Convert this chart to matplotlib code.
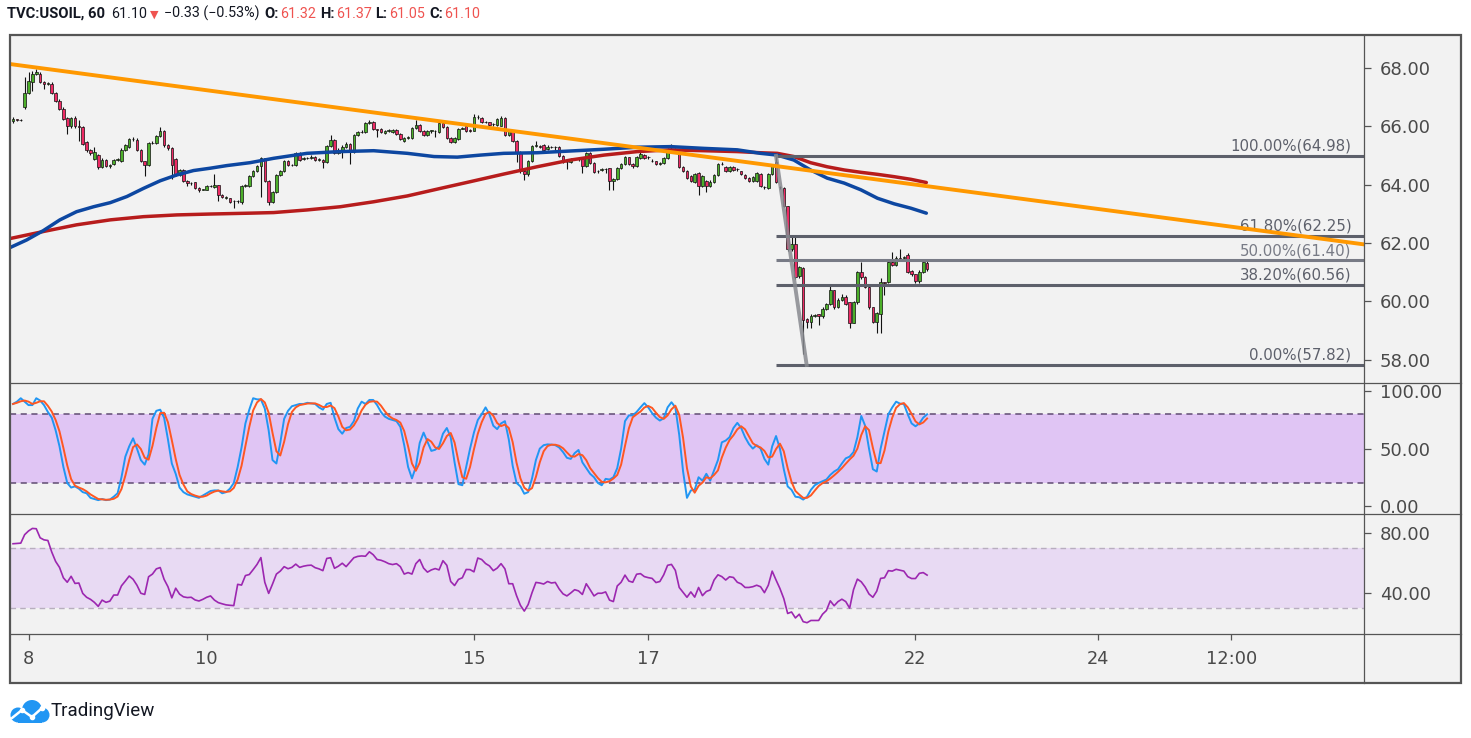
import numpy as np
import pandas as pd
import matplotlib
matplotlib.use("Agg")
import matplotlib.pyplot as plt
from matplotlib.patches import Rectangle, Circle
from matplotlib.lines import Line2D
from matplotlib.ticker import FormatStrFormatter

# ---------------- data (hourly bars, index 0 = first bar) ----------------
opens = [66.18, 66.24, 66.22, 66.66, 67.14, 67.52, 67.80, 67.80, 67.52, 67.46,
         67.46, 67.14, 66.87, 66.60, 66.28, 66.00, 66.28, 66.00, 65.97, 65.46,
         65.18, 64.87, 65.00, 64.60, 64.85, 64.65, 64.70, 64.85, 64.80, 65.18,
         65.29, 65.55, 65.53, 65.20, 64.80, 64.67, 65.42, 65.42, 65.66, 65.84,
         65.35, 65.25, 64.87, 64.32, 64.50, 64.12, 64.05, 64.08, 63.88, 63.82,
         63.82, 63.95, 63.90, 63.98, 63.64, 63.55, 63.53, 63.42, 63.42, 63.40,
         63.95, 63.95, 64.29, 64.46, 64.63, 64.90, 64.12, 63.40, 63.74, 64.32,
         64.46, 64.80, 64.67, 64.67, 65.08, 64.88, 64.90, 64.92, 64.95, 64.85,
         64.85, 64.77, 65.32, 65.53, 65.08, 65.15, 65.30, 65.40, 65.11, 65.70,
         65.80, 65.80, 66.12, 66.14, 65.90, 65.90, 65.75, 65.85, 65.80, 65.88,
         65.73, 65.50, 65.60, 65.60, 65.94, 66.05, 65.84, 65.70, 65.84, 65.82,
         65.80, 66.10, 65.97, 65.60, 65.46, 65.56, 65.92, 66.00, 65.86, 65.84,
         66.30, 66.28, 66.14, 66.14, 66.06, 66.04, 66.02, 66.28, 65.70, 65.85,
         65.50, 65.11, 64.46, 64.36, 64.80, 65.32, 65.32, 65.35, 65.22, 65.30,
         65.28, 65.29, 64.97, 64.77, 64.77, 64.87, 64.88, 64.87, 64.63, 65.08,
         64.74, 64.45, 64.50, 64.53, 64.56, 64.12, 64.18, 64.56, 64.70, 64.94,
         64.70, 64.63, 64.90, 65.00, 64.94, 64.82, 64.80, 64.72, 64.74, 64.90,
         65.22, 65.22, 65.11, 64.60, 64.46, 64.30, 64.08, 64.39, 63.95, 64.12,
         63.95, 64.10, 64.32, 64.70, 64.60, 64.46, 64.60, 64.53, 64.45, 64.32,
         64.22, 64.12, 64.12, 64.36, 63.92, 63.88, 64.36, 64.77, 63.92, 63.88,
         63.26, 61.78, 61.95, 60.85, 61.13, 59.40, 59.30, 59.50, 59.55, 59.48,
         59.75, 59.89, 60.37, 59.79, 60.06, 60.16, 59.96, 59.27, 59.96, 60.99,
         60.82, 60.50, 59.79, 59.30, 59.55, 60.65, 60.65, 61.33, 61.26, 61.50,
         61.50, 61.60, 61.05, 60.92, 60.68, 61.02, 61.32]
highs = [66.32, 66.26, 66.24, 67.70, 67.86, 67.88, 67.97, 67.85, 67.55, 67.52,
         67.50, 67.18, 66.92, 66.65, 66.32, 66.32, 66.34, 66.20, 66.00, 65.50,
         65.22, 65.30, 65.05, 64.90, 64.88, 64.70, 64.88, 64.92, 65.25, 65.40,
         65.60, 65.62, 65.58, 65.22, 64.82, 65.45, 65.48, 65.70, 65.97, 65.86,
         65.38, 65.28, 64.90, 64.55, 64.55, 64.15, 64.10, 64.10, 63.92, 63.84,
         63.98, 64.00, 64.36, 64.00, 63.66, 63.60, 63.55, 63.46, 63.46, 63.98,
         64.02, 64.33, 64.50, 64.66, 64.95, 64.92, 64.15, 63.78, 64.36, 64.50,
         64.84, 64.84, 64.72, 65.12, 65.12, 64.95, 64.96, 65.00, 64.98, 64.90,
         64.88, 65.36, 65.70, 65.56, 65.24, 65.34, 65.45, 65.44, 65.74, 65.84,
         65.86, 66.14, 66.20, 66.18, 65.92, 65.93, 65.88, 65.90, 65.92, 65.90,
         65.76, 65.64, 65.66, 65.98, 66.20, 66.08, 65.86, 65.88, 65.88, 65.88,
         66.14, 66.14, 66.00, 65.62, 65.64, 65.94, 65.98, 66.04, 65.90, 66.42,
         66.40, 66.30, 66.18, 66.16, 66.10, 66.28, 66.35, 66.30, 65.88, 65.88,
         65.52, 65.14, 64.50, 64.84, 65.36, 65.50, 65.36, 65.38, 65.34, 65.33,
         65.32, 65.32, 65.00, 64.82, 64.90, 64.92, 64.92, 64.90, 65.12, 65.10,
         64.77, 64.50, 64.57, 64.56, 64.58, 64.22, 64.60, 64.74, 64.98, 64.96,
         64.74, 64.98, 65.10, 65.04, 64.98, 64.86, 64.82, 64.76, 64.94, 65.26,
         65.39, 65.26, 65.14, 64.64, 64.50, 64.34, 64.40, 64.42, 64.34, 64.16,
         64.14, 64.36, 64.74, 64.76, 64.64, 64.64, 64.64, 64.58, 64.48, 64.35,
         64.25, 64.28, 64.42, 64.40, 63.95, 64.40, 64.67, 64.98, 63.95, 63.90,
         63.28, 62.19, 62.19, 61.20, 61.16, 59.44, 59.56, 59.55, 59.58, 59.80,
         59.94, 60.52, 60.40, 60.10, 60.25, 60.20, 59.98, 60.00, 61.03, 61.33,
         60.86, 60.54, 59.82, 59.64, 60.80, 60.66, 61.37, 61.68, 61.54, 61.78,
         61.55, 61.64, 61.08, 60.95, 61.06, 61.36, 61.37]
lows = [66.10, 66.18, 66.18, 66.60, 67.10, 67.20, 67.75, 67.48, 67.28, 67.40,
        67.10, 66.82, 66.55, 66.20, 65.73, 65.95, 65.95, 65.50, 65.35, 65.12,
        65.02, 64.85, 64.55, 64.58, 64.60, 64.58, 64.66, 64.82, 64.78, 65.15,
        65.26, 65.50, 65.15, 64.78, 64.30, 64.65, 65.38, 65.40, 65.62, 65.30,
        65.20, 64.18, 64.28, 64.28, 64.08, 63.95, 64.00, 63.85, 63.75, 63.80,
        63.80, 63.92, 63.88, 63.45, 63.55, 63.50, 63.36, 63.20, 63.38, 63.35,
        63.90, 63.92, 64.25, 64.43, 63.57, 64.10, 63.30, 63.36, 63.70, 64.28,
        64.42, 64.62, 64.62, 64.64, 64.80, 64.84, 64.86, 64.88, 64.82, 64.80,
        64.56, 64.75, 65.30, 65.04, 65.04, 64.90, 65.26, 64.70, 65.08, 65.66,
        65.76, 65.78, 66.08, 65.86, 65.63, 65.76, 65.72, 65.80, 65.76, 65.70,
        65.52, 65.45, 65.56, 65.56, 65.90, 65.80, 65.66, 65.66, 65.75, 65.62,
        65.76, 65.94, 65.56, 65.42, 65.43, 65.54, 65.90, 65.80, 65.80, 65.82,
        66.26, 66.10, 66.10, 66.00, 66.02, 66.00, 66.00, 65.66, 65.66, 65.46,
        64.77, 64.40, 64.15, 64.30, 64.76, 65.28, 65.24, 65.16, 65.18, 65.24,
        65.20, 64.94, 64.74, 64.53, 64.74, 64.84, 64.82, 64.40, 64.60, 64.70,
        64.40, 64.40, 64.46, 64.40, 63.80, 63.80, 64.14, 64.52, 64.66, 64.66,
        64.58, 64.60, 64.86, 64.86, 64.88, 64.76, 64.66, 64.68, 64.70, 64.86,
        65.18, 65.08, 64.56, 64.42, 64.18, 64.08, 64.04, 63.64, 63.90, 63.74,
        63.90, 64.06, 64.28, 64.66, 64.42, 64.42, 64.46, 64.48, 64.32, 64.18,
        64.08, 64.08, 64.08, 63.90, 63.86, 63.84, 64.32, 64.04, 63.86, 63.22,
        61.74, 61.74, 60.78, 60.80, 58.20, 59.10, 59.10, 59.46, 59.20, 59.44,
        59.70, 59.86, 59.75, 59.76, 60.02, 59.88, 59.10, 59.24, 59.92, 60.78,
        60.46, 59.75, 59.26, 58.93, 58.93, 60.23, 60.62, 61.22, 61.22, 61.40,
        61.46, 60.98, 60.88, 60.64, 60.64, 60.98, 61.05]
closes = [66.26, 66.22, 66.20, 67.14, 67.55, 67.80, 67.84, 67.52, 67.46, 67.48,
          67.14, 66.87, 66.60, 66.25, 66.00, 66.28, 66.00, 65.97, 65.39, 65.18,
          65.08, 65.11, 64.60, 64.85, 64.65, 64.66, 64.85, 64.87, 65.20, 65.35,
          65.56, 65.56, 65.18, 64.80, 64.67, 65.42, 65.43, 65.66, 65.84, 65.35,
          65.25, 64.67, 64.32, 64.50, 64.12, 64.05, 64.06, 63.88, 63.80, 63.82,
          63.95, 63.96, 64.00, 63.64, 63.58, 63.56, 63.40, 63.42, 63.43, 63.95,
          63.97, 64.29, 64.46, 64.63, 64.90, 64.12, 63.40, 63.74, 64.32, 64.46,
          64.80, 64.67, 64.68, 65.08, 64.85, 64.90, 64.91, 64.95, 64.85, 64.86,
          64.77, 65.32, 65.53, 65.08, 65.20, 65.30, 65.40, 65.10, 65.70, 65.80,
          65.81, 66.10, 66.14, 65.90, 65.88, 65.80, 65.85, 65.86, 65.88, 65.73,
          65.56, 65.60, 65.61, 65.94, 66.05, 65.84, 65.70, 65.84, 65.85, 65.83,
          66.10, 65.97, 65.60, 65.46, 65.60, 65.90, 65.95, 65.84, 65.84, 66.30,
          66.32, 66.14, 66.15, 66.04, 66.07, 66.25, 66.28, 65.70, 65.85, 65.50,
          65.11, 64.46, 64.36, 64.80, 65.32, 65.34, 65.30, 65.20, 65.30, 65.28,
          65.29, 64.97, 64.77, 64.78, 64.87, 64.88, 64.87, 64.63, 65.08, 64.74,
          64.43, 64.46, 64.53, 64.52, 64.12, 64.18, 64.56, 64.70, 64.94, 64.70,
          64.63, 64.94, 65.05, 64.90, 64.95, 64.80, 64.70, 64.73, 64.90, 65.22,
          65.23, 65.11, 64.60, 64.46, 64.22, 64.12, 64.36, 63.95, 64.30, 63.95,
          64.10, 64.32, 64.70, 64.71, 64.46, 64.60, 64.50, 64.54, 64.36, 64.22,
          64.12, 64.25, 64.39, 63.95, 63.90, 64.36, 64.63, 64.08, 63.90, 63.26,
          61.78, 61.95, 60.82, 61.16, 59.37, 59.30, 59.50, 59.51, 59.48, 59.75,
          59.89, 60.37, 59.79, 60.06, 60.16, 59.92, 59.27, 59.96, 60.99, 60.82,
          60.50, 59.79, 59.30, 59.60, 60.65, 60.62, 61.33, 61.26, 61.50, 61.43,
          61.51, 61.02, 60.92, 60.68, 61.02, 61.33, 61.10]

stoch_k = [89, 91, 94, 91, 88, 88, 94, 92, 88, 82, 77, 66, 52, 34, 20, 16, 17, 15, 12, 11,
           7, 6, 5, 6, 5, 5.5, 8, 11, 25, 43, 52, 59, 50, 40, 36, 45, 76, 83, 84, 77,
           58, 37, 28, 16, 12, 10, 9, 8, 7, 9, 11, 13, 13.5, 13.5, 11, 12, 15, 20, 34, 51,
           72, 84, 94, 93, 93, 85, 66, 40, 37, 55, 76, 83, 87, 88, 89, 89, 90, 89.5, 89, 86,
           84, 89, 90, 77, 67, 63, 68, 69, 74, 85, 91, 89, 92.5, 92.5, 88, 82, 78, 76, 75, 74,
           69, 53, 34, 24, 34, 55, 64, 56, 48, 49, 52, 63, 68, 60, 38, 19, 18, 34, 50, 64,
           75, 80, 86, 80, 70, 67, 72, 74, 58, 35, 20, 17, 10.6, 12, 24, 40, 50, 53, 53.7, 53.5,
           53, 51, 47, 42, 41, 46, 48.8, 38, 33, 28, 25, 20, 18, 23.6, 23, 25, 33, 50, 74, 79,
           79, 82, 86, 89.7, 86, 81, 77, 74.5, 76.5, 86, 90.5, 86, 62, 30, 7, 13.5, 14, 25, 22, 28,
           22, 31, 40, 55.5, 57, 60, 68, 72.5, 68, 60, 54, 50, 53, 50, 41, 36, 52, 61, 50, 32,
           17, 14, 8, 7.5, 5.5, 8, 14, 18, 20, 21.5, 23, 27, 30, 32, 37, 41.5, 43, 47, 60, 78.5,
           70, 50, 32, 30, 50, 65, 80, 86, 91, 89.3, 89, 80, 72, 69.5, 72, 77, 80]

rsi = [72.9, 73.1, 73.3, 79, 81.5, 83.2, 83, 76.9, 75.5, 75.1, 67.3, 61, 57, 50, 47, 51, 46.2, 46.5, 39.5, 36.9,
       35.5, 33.5, 30.8, 35, 33.5, 34.3, 38.4, 38.4, 44.6, 47.8, 51.2, 49, 45, 39.6, 38.8, 50.7, 52.5, 56, 56.9, 49,
       44, 36.5, 43, 39, 37.2, 36.7, 36.9, 35.1, 34.4, 35.5, 36.9, 37.8, 35, 33.3, 32.5, 31.8, 31.5, 31.3, 45.6, 45.1,
       51.5, 52.2, 55.5, 59, 63.6, 47, 39.5, 45.8, 52.5, 54.5, 57.5, 56.1, 57, 59.2, 57, 57.8, 58.3, 58.5, 56.8, 56,
       54.8, 63, 63.5, 56.4, 57.8, 59.8, 57.5, 60.5, 63.5, 64.4, 64.7, 64.5, 67.5, 65.5, 62.3, 61.8, 60.8, 59.5, 58.9, 59.5,
       57.5, 52.5, 53.5, 52.5, 59.5, 62.3, 56.5, 53.8, 55.3, 56.2, 55.3, 61.5, 58.4, 47.5, 44.8, 48.9, 50, 55.6, 55.5, 54,
       63.3, 62.3, 59.6, 58, 54.8, 56.5, 59.5, 56, 46, 46, 38, 31.5, 27.6, 32, 40, 46.9, 46.5, 45.8, 47.5, 46.5,
       46.9, 42.5, 39.2, 37.8, 39.8, 42, 41.2, 38.8, 46, 42, 37.8, 39.6, 39.6, 40.5, 35, 34, 44.5, 47, 51.8, 47.8,
       47, 52.4, 52.8, 50.8, 50.1, 49.6, 46.8, 47.5, 52, 58.4, 59, 55, 43.5, 40.2, 36.9, 40.5, 37, 43.5, 38, 40.8,
       41.8, 48.5, 52, 50.8, 48.5, 50.7, 50.2, 47, 45.9, 43.5, 43.5, 44, 45, 44, 40, 45, 54.5, 48.5, 42.8, 36,
       26, 27, 23, 25.5, 20.5, 19.8, 21.3, 21.3, 21.3, 25.5, 28, 34.5, 31.2, 34, 35.6, 34, 29.6, 42, 49.1, 47.3,
       43.8, 39.1, 36.9, 41, 49.6, 50, 54.8, 54.5, 55.7, 55.1, 54.5, 50.8, 49.5, 49.5, 53, 53.5, 51.8]

# moving averages, sampled at bar positions
ma_blue_x = [-0.78, 3.5, 7.8, 12.1, 16.4, 20.8, 25.1, 29.4, 33.7, 38.0, 42.3, 46.6, 50.9, 55.2,
             61.2, 67.3, 75.9, 84.5, 93.1, 101.8, 108.7, 114.7, 120.7, 126.7, 135.3, 143.9,
             152.6, 161.2, 169.8, 178.4, 187.0, 193.0, 197.3, 201.6, 205.9, 210.2, 214.6,
             218.9, 223.2, 227.5, 231.8, 235.8]
ma_blue = [61.84, 62.10, 62.42, 62.79, 63.07, 63.24, 63.38, 63.59, 63.87, 64.13, 64.33, 64.48,
           64.56, 64.65, 64.75, 64.90, 65.07, 65.13, 65.16, 65.07, 64.96, 64.94, 65.01, 65.07,
           65.09, 65.15, 65.21, 65.28, 65.30, 65.24, 65.19, 65.07, 65.01, 64.84, 64.50, 64.22,
           64.05, 63.82, 63.53, 63.34, 63.19, 63.02]
ma_red_x = [-0.78, 7.8, 16.4, 25.1, 33.7, 42.3, 50.9, 61.2, 67.3, 75.9, 84.5, 93.1, 101.8,
            110.4, 118.1, 126.7, 135.3, 143.9, 152.6, 161.2, 169.8, 178.4, 187.0, 193.0, 197.3,
            201.6, 205.9, 210.2, 214.6, 218.9, 223.2, 227.5, 231.8, 235.8]
ma_red = [62.15, 62.39, 62.62, 62.79, 62.90, 62.96, 62.99, 63.02, 63.04, 63.13, 63.24, 63.41,
          63.61, 63.87, 64.10, 64.36, 64.61, 64.84, 65.01, 65.13, 65.19, 65.16, 65.13, 65.09,
          65.07, 64.96, 64.75, 64.61, 64.50, 64.42, 64.35, 64.27, 64.18, 64.07]

trend_x = [-0.78, 348.8]
trend_y = [68.13, 61.95]

fib_levels = [64.98, 62.25, 61.40, 60.56, 57.82]
fib_labels = ["100.00%(64.98)", "61.80%(62.25)", "50.00%(61.40)", "38.20%(60.56)", "0.00%(57.82)"]
fib_start = 197
fib_label_x = 345.6
fib_diag_x = [197, 204.9]
fib_diag_y = [64.98, 57.82]

price_ticks = [58, 60, 62, 64, 66, 68]
stoch_ticks = [0, 50, 100]
rsi_ticks = [40, 80]
date_ticks = [4, 50, 119, 164, 233, 280, 314.5]
date_labels = ["8", "10", "15", "17", "22", "24", "12:00"]

# ---------------- layout helpers ----------------
W, H = 1471, 738
def fx(px):
    return px / W
def fy(py):
    return 1 - py / H

BG = "#f2f2f2"
GRID = "#555555"
TXT = "#4a4a4a"
XLIM = (-0.78, 348.8)

fig = plt.figure(figsize=(W / 100, H / 100), dpi=100, facecolor="white")

# chart background + frame + panel separators
fig.patches.append(Rectangle((fx(10), fy(683)), fx(1461) - fx(10), fy(35) - fy(683),
                             transform=fig.transFigure, facecolor=BG, edgecolor="none", zorder=-10))
fig.patches.append(Rectangle((fx(10), fy(683)), fx(1461) - fx(10), fy(35) - fy(683),
                             transform=fig.transFigure, facecolor="none", edgecolor=GRID,
                             lw=1.6, zorder=100))
for yy in (383, 514, 634):
    fig.lines.append(Line2D([fx(10), fx(1461)], [fy(yy), fy(yy)], transform=fig.transFigure,
                            color=GRID, lw=0.9, zorder=90))
fig.lines.append(Line2D([fx(1364), fx(1364)], [fy(35), fy(683)], transform=fig.transFigure,
                        color=GRID, lw=0.9, zorder=90))

L, R = 10, 1364
ax = fig.add_axes([fx(L), fy(383), fx(R) - fx(L), fy(35) - fy(383)])
ax_st = fig.add_axes([fx(L), fy(514), fx(R) - fx(L), fy(383) - fy(514)], sharex=ax)
ax_rsi = fig.add_axes([fx(L), fy(634), fx(R) - fx(L), fy(514) - fy(634)], sharex=ax)

for a in (ax, ax_st, ax_rsi):
    a.set_facecolor(BG)
    a.set_xlim(*XLIM)
    for s in a.spines.values():
        s.set_visible(False)
    a.yaxis.tick_right()
    a.tick_params(axis="y", direction="out", length=5, width=0.9, color=GRID,
                  labelcolor=TXT, labelsize=13, pad=6.5, left=False, labelleft=False)
    a.yaxis.set_major_formatter(FormatStrFormatter("%.2f"))
    a.tick_params(axis="x", bottom=False, labelbottom=False)

# ---------------- main price panel ----------------
o = np.array(opens); h = np.array(highs); l = np.array(lows); c = np.array(closes)
idx = np.arange(len(c))
up = c >= o
body_bot = np.minimum(o, c)
body_h = np.maximum(np.abs(c - o), 0.015)
colors = np.where(up, "#4caf2a", "#ee2a64")
ax.vlines(idx, l, h, color="#111111", lw=0.8, zorder=2)
ax.bar(idx, body_h, bottom=body_bot, width=0.66, color=colors, edgecolor="#111111",
       linewidth=0.5, zorder=3)

ax.plot(ma_red_x, ma_red, color="#b71c1c", lw=2.5, zorder=4, solid_capstyle="round")
ax.plot(ma_blue_x, ma_blue, color="#0d47a1", lw=2.5, zorder=4, solid_capstyle="round")

fib_colors = ["#5d606b", "#5d606b", "#787b86", "#5d606b", "#5d606b"]
for lev, lab, col in zip(fib_levels, fib_labels, fib_colors):
    ax.hlines(lev, fib_start, XLIM[1], color=col, lw=2.2, zorder=5)
    ax.annotate(lab, (fib_label_x, lev), xytext=(0, 2), textcoords="offset pixels",
                ha="right", va="bottom", color=col, fontsize=10.8, zorder=6)
ax.plot(fib_diag_x, fib_diag_y, color="#888a90", lw=2.8, alpha=0.85, zorder=5)
ax.plot(trend_x, trend_y, color="#ff9800", lw=2.8, zorder=6)

ax.set_ylim(57.20, 69.125)
ax.set_yticks(price_ticks)

# ---------------- stochastic panel ----------------
k = pd.Series(stoch_k, dtype=float)
d = k.rolling(3, min_periods=1).mean()
ax_st.axhspan(20, 80, color="#e0c5f4", zorder=1, lw=0)
for lev in (20, 80):
    ax_st.axhline(lev, color="#5f4b72", lw=1.1, dashes=(4, 3), zorder=2)
ax_st.plot(idx, k, color="#2196f3", lw=1.4, zorder=3)
ax_st.plot(idx, d, color="#ff5722", lw=1.4, zorder=4)
ax_st.set_ylim(-7.1, 107.3)
ax_st.set_yticks(stoch_ticks)

# ---------------- RSI panel ----------------
ax_rsi.axhspan(30, 70, color="#e8daf3", zorder=1, lw=0)
for lev in (30, 70):
    ax_rsi.axhline(lev, color="#b8aebf", lw=1.0, dashes=(4, 3), zorder=2)
ax_rsi.plot(idx, rsi, color="#9c27b0", lw=1.2, zorder=3)
ax_rsi.set_ylim(12.2, 92.9)
ax_rsi.set_yticks(rsi_ticks)
ax_rsi.set_xticks(date_ticks)
ax_rsi.set_xticklabels(date_labels)
ax_rsi.tick_params(axis="x", bottom=True, labelbottom=True, direction="out", length=4.5,
                   width=0.9, color=GRID, labelcolor=TXT, labelsize=12.8, pad=7)

# ---------------- header (laid out left to right) ----------------
HF = ["Roboto", "DejaVu Sans"]
hy = fy(17.5)
RED = "#ef5350"
DARK = "#131722"
header = [("TVC:USOIL, 60", "bold", DARK, 10.6, 6),
          ("61.10", "normal", DARK, 10.3, 3),
          ("\u25bc", "normal", RED, 8.0, 5),
          ("\u22120.33 (\u22120.53%)", "normal", DARK, 10.3, 5),
          ("O:", "bold", DARK, 10.6, 1.5),
          ("61.32", "normal", RED, 10.3, 4),
          ("H:", "bold", DARK, 10.6, 1.5),
          ("61.37", "normal", RED, 10.3, 4),
          ("L:", "bold", DARK, 10.6, 1.5),
          ("61.05", "normal", RED, 10.3, 4),
          ("C:", "bold", DARK, 10.6, 1.5),
          ("61.10", "normal", RED, 10.3, 0)]
renderer = fig.canvas.get_renderer()
xcur = 7.0
for s, wt, col, fs, gap in header:
    t = fig.text(fx(xcur), hy, s, family=HF, fontweight=wt, color=col, fontsize=fs,
                 va="baseline")
    bb = t.get_window_extent(renderer=renderer)
    xcur = bb.x1 + gap

# ---------------- TradingView logo ----------------
lax = fig.add_axes([fx(8), fy(724), fx(50) - fx(8), fy(698) - fy(724)])
lax.set_xlim(0, 42)
lax.set_ylim(0, 26)
lax.axis("off")
blue = "#2196f3"
lax.add_patch(Circle((24, 14), 10, color=blue, lw=0))
lax.add_patch(Circle((10, 9), 7.5, color=blue, lw=0))
lax.add_patch(Circle((34, 9), 7.5, color=blue, lw=0))
lax.add_patch(Rectangle((10, 1.5), 24, 8, color=blue, lw=0))
lax.plot([4, 14, 24, 34], [6, 14, 7, 16], color="white", lw=1.8, solid_capstyle="round")
lax.scatter([14, 24, 34], [14, 7, 16], s=9, color="white", zorder=5)
fig.text(fx(51), fy(716.5), "TradingView", family=HF, fontsize=13.5, color=DARK, va="baseline")

fig.savefig("out.png", dpi=100, facecolor="white")
